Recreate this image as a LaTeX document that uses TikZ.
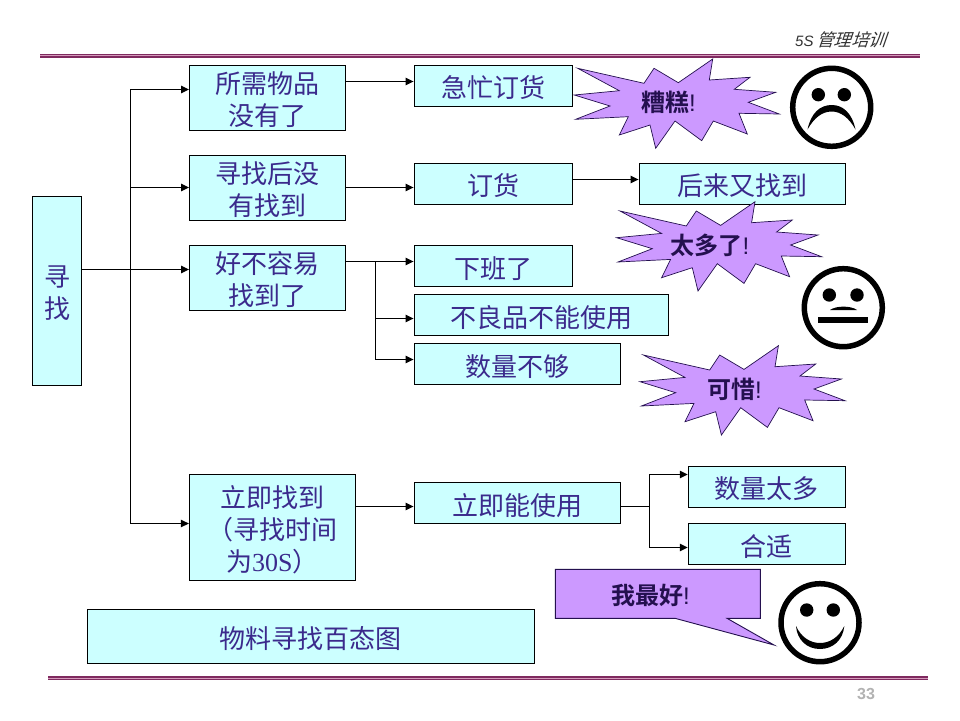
\documentclass[tikz,border=0pt]{standalone}
\usepackage{fontspec}
\usetikzlibrary{arrows.meta}
\setmainfont{Liberation Sans}
\newfontfamily\cjk{Noto Sans CJK SC}
\newfontfamily\cjkslant[FakeSlant=0.35]{Noto Sans CJK SC}
\newfontfamily\cjkbold[BoldFont={Noto Sans CJK SC Bold}]{Noto Sans CJK SC}
\newfontfamily\latinserif{Liberation Serif}
\definecolor{boxfill}{HTML}{CCFFFF}
\definecolor{boxtext}{HTML}{3B2A8C}
\definecolor{burst}{HTML}{CC99FF}
\definecolor{bursttext}{HTML}{24104F}
\definecolor{ruledark}{HTML}{7F2A5F}
\definecolor{rulelight}{HTML}{D59ABB}
\definecolor{pagegray}{HTML}{B2B2B2}
\newcommand{\topgap}{\rule{0pt}{26pt}}
\tikzset{
  x=1pt,y=-1pt,
  flowbox/.style={draw=black,fill=boxfill,line width=0.9pt,text=boxtext,align=center,inner sep=0pt,
    font=\cjk\fontsize{26}{32}\selectfont},
  oneline/.style={flowbox,execute at begin node={\rule{0pt}{27pt}}},
  link/.style={draw=black,line width=1.1pt},
  linkarrow/.style={link,-{Triangle[length=8pt,width=7.5pt]}},
  burstshape/.style={draw=bursttext,fill=burst,line width=0.7pt,line join=miter,miter limit=10},
  bursttxt/.style={text=bursttext,inner sep=0pt,font=\cjkbold\bfseries\fontsize{24}{28}\selectfont},
  facering/.style={draw=black,line width=5.5pt,fill=white},
  facefill/.style={fill=black,draw=none},
  ruleA/.style={draw=ruledark,line width=3.8pt},
  ruleB/.style={draw=rulelight,line width=1pt},
}
\newcommand{\burstpath}{
  (577.7,68.3) -- (644,83.3) -- (654,68.3) -- (678.3,82.7) -- (712.7,59) -- (709.3,80) -- (750,77.3)
  -- (734.3,89.3) -- (775.7,92.3) -- (748.3,102.3) -- (779.3,114) -- (739,113.3) -- (747.3,134)
  -- (713.3,121) -- (701.7,140.7) -- (675,121) -- (655.7,148.3) -- (650,125) -- (619.3,135)
  -- (628.3,116.7) -- (575.7,119.3) -- (610,106) -- (574.3,95) -- (619.3,90.7) -- cycle}
\begin{document}
\begin{tikzpicture}
\useasboundingbox (0,0) rectangle (960,720);
\fill[white] (0,0) rectangle (960,720);
% rules
\coordinate (ta) at (40,55.8); \coordinate (tb) at (920,55.8);
\coordinate (ba) at (48,678.2); \coordinate (bb) at (928,678.2);
\draw[ruleA] (ta) -- (tb); \draw[ruleB] (ta) -- (tb);
\draw[ruleA] (ba) -- (bb); \draw[ruleB] (ba) -- (bb);
\node[anchor=west,inner sep=0pt,text=black!80] (hdr) at (795,40)
  {\fontsize{15}{18}\selectfont\itshape 5S\,{\cjkslant\fontsize{17.5}{18}\selectfont 管理培训}};
\node[inner sep=0pt,text=pagegray] (pg) at (866,694) {\fontsize{16}{18}\selectfont\bfseries 33};
% boxes
\node[flowbox,minimum width=49pt,minimum height=189pt] (root) at (57.2,290.5) {\topgap 寻\\找};
\node[flowbox,minimum width=156pt,minimum height=65pt] (need) at (267.5,97.5) {\topgap 所需物品\\没有了};
\node[flowbox,minimum width=156pt,minimum height=65pt] (after) at (267.5,188) {\topgap 寻找后没\\有找到};
\node[flowbox,minimum width=156pt,minimum height=65pt] (hard) at (267.5,278) {\topgap 好不容易\\找到了};
\node[flowbox,minimum width=166pt,minimum height=106pt] (now) at (272.3,527.3) {\topgap 立即找到\\（寻找时间\\为{\latinserif 30S}）};
\node[oneline,minimum width=158pt,minimum height=41pt] (rush) at (493,85.5) {急忙订货};
\node[oneline,minimum width=158pt,minimum height=41pt] (order) at (493,183.5) {订货};
\node[oneline,minimum width=206pt,minimum height=41pt] (later) at (742,183.5) {后来又找到};
\node[oneline,minimum width=158pt,minimum height=41pt] (off) at (493,265.7) {下班了};
\node[oneline,minimum width=254pt,minimum height=41pt] (bad) at (541,314.7) {不良品不能使用};
\node[oneline,minimum width=206pt,minimum height=41pt] (few) at (517,363.7) {数量不够};
\node[oneline,minimum width=206pt,minimum height=41pt] (use) at (517,502.7) {立即能使用};
\node[oneline,minimum width=157pt,minimum height=41pt] (many) at (766.7,486.5) {数量太多};
\node[oneline,minimum width=157pt,minimum height=41pt] (fit) at (766.7,543.7) {合适};
\node[oneline,minimum width=447pt,minimum height=54pt] (title) at (310.8,636.3) {物料寻找百态图};
% connector junctions
\coordinate (t1) at (130.5,89.5);
\coordinate (t2) at (130.5,187.5);
\coordinate (t3) at (130.5,269.5);
\coordinate (t4) at (130.5,523.5);
\coordinate (a1) at (400,81.5);
\coordinate (a2) at (400,187.5);
\coordinate (a3) at (600,179.5);
\coordinate (b1) at (375.5,261.5);
\coordinate (b2) at (375.5,318.5);
\coordinate (b3) at (375.5,359.5);
\coordinate (a4) at (400,506.5);
\coordinate (c0) at (649.5,506.5);
\coordinate (c1) at (649.5,474.5);
\coordinate (c2) at (649.5,547.5);
% connectors
\draw[link] (root.east |- t3) -- (t3);
\draw[linkarrow] (t3) -- (hard.west |- t3);
\draw[linkarrow] (t3) -- (t1) -- (need.west |- t1);
\draw[linkarrow] (t2) -- (after.west |- t2);
\draw[linkarrow] (t3) -- (t4) -- (now.west |- t4);
\draw[linkarrow] (need.east |- a1) -- (rush.west |- a1);
\draw[linkarrow] (after.east |- a2) -- (order.west |- a2);
\draw[linkarrow] (order.east |- a3) -- (later.west |- a3);
\draw[linkarrow] (hard.east |- b1) -- (off.west |- b1);
\draw[linkarrow] (b1) -- (b2) -- (bad.west |- b2);
\draw[linkarrow] (b2) -- (b3) -- (few.west |- b3);
\draw[linkarrow] (now.east |- a4) -- (use.west |- a4);
\draw[link] (use.east |- c0) -- (c0);
\draw[linkarrow] (c0) -- (c1) -- (many.west |- c1);
\draw[linkarrow] (c0) -- (c2) -- (fit.west |- c2);
% bursts
\draw[burstshape] \burstpath;
\node[bursttxt] (bad1) at (668.5,102) {糟糕{\rmfamily\mdseries !}};
\begin{scope}[shift={(42.3,142.7)}]
  \draw[burstshape] \burstpath;
\end{scope}
\node[bursttxt] (bad2) at (710,245) {太多了{\rmfamily\mdseries !}};
\begin{scope}[shift={(65.7,286.7)}]
  \draw[burstshape] \burstpath;
\end{scope}
\node[bursttxt] (bad3) at (734.5,389) {可惜{\rmfamily\mdseries !}};
% callout
\draw[burstshape,line width=0.9pt] (555.3,569.3) -- (760.3,569.3) -- (760.3,618.3) -- (727,618.3)
  -- (774,645) -- (675,618.3) -- (555.3,618.3) -- cycle;
\node[bursttxt] (best) at (650.5,595) {我最好{\rmfamily\mdseries !}};
% frown
\draw[facering] (831.7,107.3) circle (39);
\fill[facefill] (818.3,94.7) circle (6.7) (844.3,94.7) circle (6.7);
\fill[facefill] (807.5,129.5) .. controls (811,113) and (820,105) .. (831.7,105)
  .. controls (843,105) and (852,113) .. (855.5,129.5)
  .. controls (849,118) and (841,111.5) .. (831.7,111.5)
  .. controls (822,111.5) and (814,118) .. (807.5,129.5) -- cycle;
% neutral
\draw[facering] (843.3,307.7) circle (39);
\fill[facefill] (829.3,295) circle (6.7) (857,295) circle (6.7);
\fill[facefill] (830,310) .. controls (836,305.5) and (851,305.5) .. (857,310) -- cycle;
\fill[facefill] (818.3,317.3) rectangle (867.7,322.7);
% smile
\draw[facering] (820,622.7) circle (39);
\fill[facefill] (796,626) .. controls (801,637) and (810,643) .. (820,643)
  .. controls (830,643) and (839,637) .. (844.3,626)
  .. controls (843,640) and (833,649) .. (820,649)
  .. controls (807,649) and (797,640) .. (796,626) -- cycle;
\fill[facefill] (806.7,610) circle (6.7) (833.3,610) circle (6.7);
\end{tikzpicture}
\end{document}
